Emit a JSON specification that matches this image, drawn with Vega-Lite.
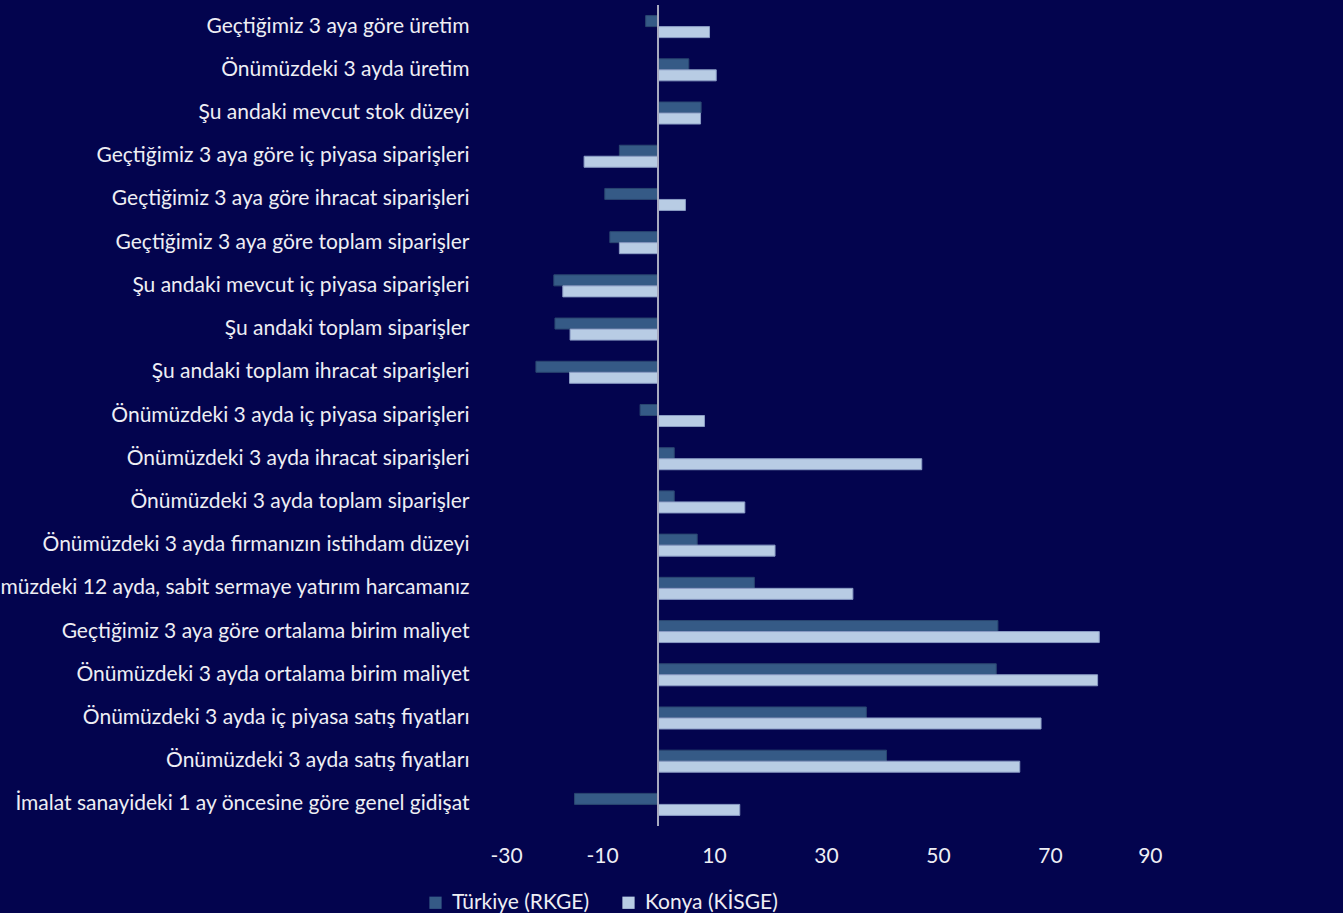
{
  "$schema": "https://vega.github.io/schema/vega-lite/v6.json",
  "autosize": {"type": "none"},
  "width": 672,
  "height": 821,
  "padding": {"left": 490, "top": 5, "right": 181, "bottom": 87},
  "background": "#03044E",
  "config": {
    "view": {"stroke": null},
    "font": "Lato"
  },
  "data": {
    "values": [
      {"kategori": "Geçtiğimiz 3 aya göre üretim", "seri": "Türkiye (RKGE)", "deger": -2.2},
      {"kategori": "Geçtiğimiz 3 aya göre üretim", "seri": "Konya (KİSGE)", "deger": 9.2},
      {"kategori": "Önümüzdeki 3 ayda üretim", "seri": "Türkiye (RKGE)", "deger": 5.5},
      {"kategori": "Önümüzdeki 3 ayda üretim", "seri": "Konya (KİSGE)", "deger": 10.4},
      {"kategori": "Şu andaki mevcut stok düzeyi", "seri": "Türkiye (RKGE)", "deger": 7.7},
      {"kategori": "Şu andaki mevcut stok düzeyi", "seri": "Konya (KİSGE)", "deger": 7.6},
      {"kategori": "Geçtiğimiz 3 aya göre iç piyasa siparişleri", "seri": "Türkiye (RKGE)", "deger": -6.9},
      {"kategori": "Geçtiğimiz 3 aya göre iç piyasa siparişleri", "seri": "Konya (KİSGE)", "deger": -13.2},
      {"kategori": "Geçtiğimiz 3 aya göre ihracat siparişleri", "seri": "Türkiye (RKGE)", "deger": -9.5},
      {"kategori": "Geçtiğimiz 3 aya göre ihracat siparişleri", "seri": "Konya (KİSGE)", "deger": 4.9},
      {"kategori": "Geçtiğimiz 3 aya göre toplam siparişler", "seri": "Türkiye (RKGE)", "deger": -8.6},
      {"kategori": "Geçtiğimiz 3 aya göre toplam siparişler", "seri": "Konya (KİSGE)", "deger": -6.9},
      {"kategori": "Şu andaki mevcut iç piyasa siparişleri", "seri": "Türkiye (RKGE)", "deger": -18.6},
      {"kategori": "Şu andaki mevcut iç piyasa siparişleri", "seri": "Konya (KİSGE)", "deger": -17.0},
      {"kategori": "Şu andaki toplam siparişler", "seri": "Türkiye (RKGE)", "deger": -18.4},
      {"kategori": "Şu andaki toplam siparişler", "seri": "Konya (KİSGE)", "deger": -15.7},
      {"kategori": "Şu andaki toplam ihracat siparişleri", "seri": "Türkiye (RKGE)", "deger": -21.8},
      {"kategori": "Şu andaki toplam ihracat siparişleri", "seri": "Konya (KİSGE)", "deger": -15.8},
      {"kategori": "Önümüzdeki 3 ayda iç piyasa siparişleri", "seri": "Türkiye (RKGE)", "deger": -3.2},
      {"kategori": "Önümüzdeki 3 ayda iç piyasa siparişleri", "seri": "Konya (KİSGE)", "deger": 8.3},
      {"kategori": "Önümüzdeki 3 ayda ihracat siparişleri", "seri": "Türkiye (RKGE)", "deger": 2.9},
      {"kategori": "Önümüzdeki 3 ayda ihracat siparişleri", "seri": "Konya (KİSGE)", "deger": 47.1},
      {"kategori": "Önümüzdeki 3 ayda toplam siparişler", "seri": "Türkiye (RKGE)", "deger": 2.9},
      {"kategori": "Önümüzdeki 3 ayda toplam siparişler", "seri": "Konya (KİSGE)", "deger": 15.5},
      {"kategori": "Önümüzdeki 3 ayda firmanızın istihdam düzeyi", "seri": "Türkiye (RKGE)", "deger": 7.0},
      {"kategori": "Önümüzdeki 3 ayda firmanızın istihdam düzeyi", "seri": "Konya (KİSGE)", "deger": 20.9},
      {"kategori": "Önümüzdeki 12 ayda, sabit sermaye yatırım harcamanız", "seri": "Türkiye (RKGE)", "deger": 17.2},
      {"kategori": "Önümüzdeki 12 ayda, sabit sermaye yatırım harcamanız", "seri": "Konya (KİSGE)", "deger": 34.8},
      {"kategori": "Geçtiğimiz 3 aya göre ortalama birim maliyet", "seri": "Türkiye (RKGE)", "deger": 60.7},
      {"kategori": "Geçtiğimiz 3 aya göre ortalama birim maliyet", "seri": "Konya (KİSGE)", "deger": 78.8},
      {"kategori": "Önümüzdeki 3 ayda ortalama birim maliyet", "seri": "Türkiye (RKGE)", "deger": 60.4},
      {"kategori": "Önümüzdeki 3 ayda ortalama birim maliyet", "seri": "Konya (KİSGE)", "deger": 78.5},
      {"kategori": "Önümüzdeki 3 ayda iç piyasa satış fiyatları", "seri": "Türkiye (RKGE)", "deger": 37.2},
      {"kategori": "Önümüzdeki 3 ayda iç piyasa satış fiyatları", "seri": "Konya (KİSGE)", "deger": 68.4},
      {"kategori": "Önümüzdeki 3 ayda satış fiyatları", "seri": "Türkiye (RKGE)", "deger": 40.8},
      {"kategori": "Önümüzdeki 3 ayda satış fiyatları", "seri": "Konya (KİSGE)", "deger": 64.6},
      {"kategori": "İmalat sanayideki 1 ay öncesine göre genel gidişat", "seri": "Türkiye (RKGE)", "deger": -14.9},
      {"kategori": "İmalat sanayideki 1 ay öncesine göre genel gidişat", "seri": "Konya (KİSGE)", "deger": 14.6}
    ]
  },
  "layer": [
    {
      "mark": {"type": "bar", "strokeWidth": 1},
      "encoding": {
        "y": {
          "field": "kategori",
          "type": "nominal",
          "sort": null,
          "scale": {"paddingInner": 0.49, "paddingOuter": 0.245},
          "axis": {
            "title": null,
            "ticks": false,
            "domain": false,
            "labelColor": "#EEEEF4",
            "labelFontSize": 21,
            "labelPadding": 21,
            "labelLimit": 800
          }
        },
        "yOffset": {
          "field": "seri",
          "type": "nominal",
          "sort": ["Türkiye (RKGE)", "Konya (KİSGE)"],
          "scale": {"paddingInner": 0, "paddingOuter": 0}
        },
        "x": {
          "field": "deger",
          "type": "quantitative",
          "scale": {"domain": [-30, 90], "nice": false, "zero": false},
          "axis": {
            "title": null,
            "values": [-30, -10, 10, 30, 50, 70, 90],
            "labelExpr": "'' + datum.value",
            "grid": false,
            "ticks": false,
            "domain": false,
            "labelColor": "#EEEEF4",
            "labelFontSize": 21,
            "labelPadding": 19
          }
        },
        "color": {
          "field": "seri",
          "type": "nominal",
          "scale": {
            "domain": ["Türkiye (RKGE)", "Konya (KİSGE)"],
            "range": ["#355A86", "#B8CCE4"]
          },
          "legend": {
            "title": null,
            "orient": "none",
            "direction": "horizontal",
            "legendX": -65,
            "legendY": 887,
            "symbolType": "square",
            "symbolSize": 150,
            "symbolStrokeWidth": 0,
            "labelColor": "#EEEEF4",
            "labelFontSize": 21,
            "columnPadding": 28,
            "labelOffset": 6
          }
        },
        "stroke": {
          "field": "seri",
          "type": "nominal",
          "scale": {
            "domain": ["Türkiye (RKGE)", "Konya (KİSGE)"],
            "range": ["#2A4670", "#8A9CC4"]
          },
          "legend": null
        }
      }
    },
    {
      "mark": {"type": "rule", "color": "#A8ABC0", "strokeWidth": 1.2},
      "encoding": {"x": {"datum": 0}}
    }
  ]
}
